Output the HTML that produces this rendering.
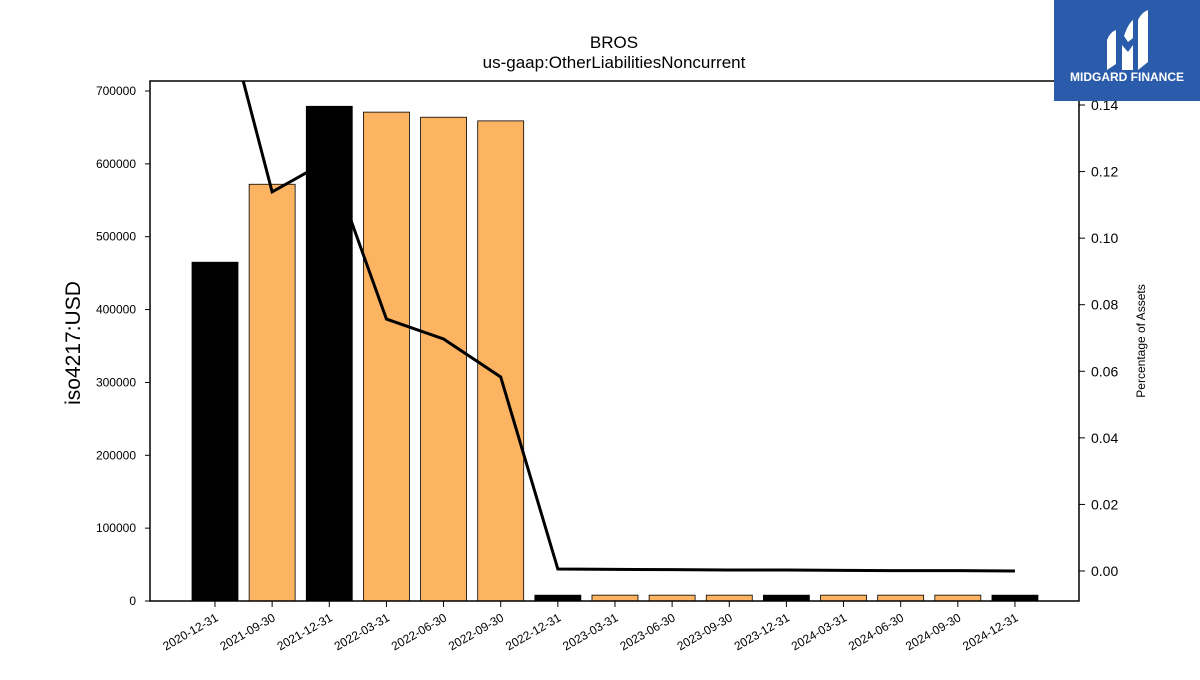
<!DOCTYPE html>
<html><head><meta charset="utf-8"><style>
body{margin:0;background:#fff;width:1200px;height:675px;overflow:hidden;font-family:"Liberation Sans","DejaVu Sans",sans-serif}
</style></head><body>
<svg id="chart" width="1200" height="675" xmlns="http://www.w3.org/2000/svg">
<defs><clipPath id="pc"><rect x="150" y="81" width="929" height="520"/></clipPath></defs>
<text x="614" y="48" font-size="17" text-anchor="middle">BROS</text>
<text x="614" y="68" font-size="17" text-anchor="middle">us-gaap:OtherLiabilitiesNoncurrent</text>
<g id="bars"></g>
<g id="line" clip-path="url(#pc)"></g>
<rect x="150" y="81" width="929" height="520" fill="none" stroke="#000" stroke-width="1.5"/>
<g id="yl"></g>
<g id="yr"></g>
<g id="xa"></g>
<text transform="translate(80,343) rotate(-90)" font-size="21" text-anchor="middle">iso4217:USD</text>
<text transform="translate(1145,341) rotate(-90)" font-size="12" text-anchor="middle">Percentage of Assets</text>
<g>
<rect x="1054" y="0" width="146" height="101" fill="#2b5bab"/>
<path d="M1107 70 L1107 40 Q1110 32 1116 30 L1116 64 Z" fill="#fff"/>
<path d="M1122 70 L1122 45 L1128 52 L1133 45 L1133 70 Z M1124 36 Q1128 24 1133 20 L1133 38 L1128 42 Z" fill="#fff"/>
<path d="M1138 70 L1138 20 Q1142 12 1148 10 L1148 62 Z" fill="#fff"/>
<text x="1127" y="81" font-size="12" font-weight="bold" fill="#fff" text-anchor="middle">MIDGARD FINANCE</text>
</g>
</svg>
<script>
const categories=["2020-12-31","2021-09-30","2021-12-31","2022-03-31","2022-06-30","2022-09-30","2022-12-31","2023-03-31","2023-06-30","2023-09-30","2023-12-31","2024-03-31","2024-06-30","2024-09-30","2024-12-31"];
const values=[465000,572000,679000,671000,664000,659000,8000,8000,8000,8000,8000,8000,8000,8000,8000];
const annual=[1,0,1,0,0,0,1,0,0,0,1,0,0,0,1];
const pct=[0.1797,0.1139,0.1235,0.0757,0.0697,0.0583,0.0006,0.0005,0.0004,0.0003,0.0003,0.0002,0.0001,0.0001,0.0000];
const leftTicks=[0,100000,200000,300000,400000,500000,600000,700000];
const rightTicks=[0,0.02,0.04,0.06,0.08,0.10,0.12,0.14];
const NS="http://www.w3.org/2000/svg";
const x=i=>215+i*57.14;
const yL=v=>601-v*510/700000;
const yR=v=>571-v*3328.6;
function mk(t,a,p){const e=document.createElementNS(NS,t);for(const k in a)e.setAttribute(k,a[k]);p.appendChild(e);return e;}
const bars=document.getElementById('bars');
values.forEach((v,i)=>{
 const r=mk('rect',{x:x(i)-23,y:yL(v),width:46,height:601-yL(v),fill:annual[i]?'#000':'#fdb462',stroke:'#000','stroke-width':0.8},bars);
 
 
});
const lg=document.getElementById('line');
const pl=mk('polyline',{points:pct.map((v,i)=>x(i)+','+yR(v)).join(' '),fill:'none',stroke:'#000','stroke-width':3,'stroke-linejoin':'miter'},lg);


const yl=document.getElementById('yl');
leftTicks.forEach(v=>{const y=yL(v);
 mk('line',{x1:145,x2:150,y1:y,y2:y,stroke:'#000'},yl);
 const t=mk('text',{x:136,y:y+4,'font-size':12,'text-anchor':'end'},yl);t.textContent=v;
 
 });
const yr=document.getElementById('yr');
rightTicks.forEach(v=>{const y=yR(v);
 mk('line',{x1:1079,x2:1085,y1:y,y2:y,stroke:'#000'},yr);
 const t=mk('text',{x:1091,y:y+5,'font-size':14},yr);t.textContent=v.toFixed(2);
 
 });
const xa=document.getElementById('xa');
categories.forEach((c,i)=>{const px=x(i);
 mk('line',{x1:px,x2:px,y1:601,y2:607,stroke:'#000'},xa);
 const t=mk('text',{x:px+4,y:620,'font-size':12,'text-anchor':'end',transform:`rotate(-30 ${px+4} 620)`},xa);t.textContent=c;
 
 });
</script>
</body></html>
